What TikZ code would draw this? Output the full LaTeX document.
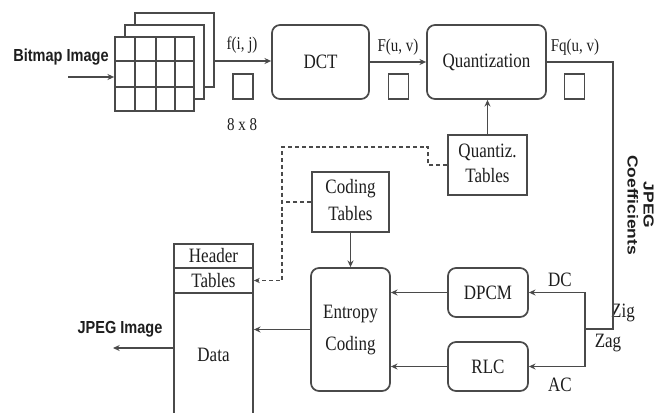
\documentclass[tikz,border=0pt]{standalone}
\usepackage{fontspec}
\setmainfont{Liberation Serif}
\newfontfamily\arialf{Liberation Sans}
\usepackage{graphicx}
\usetikzlibrary{arrows.meta}
\newcommand\vs[1]{\scalebox{1}[1.2]{#1}}
\newcommand\hs[1]{\scalebox{1.2}[1]{#1}}
\definecolor{lc}{HTML}{4A4A4A}
\definecolor{tc}{HTML}{1E1E1E}
\begin{document}
\begin{tikzpicture}[x=0.75pt,y=-0.75pt,
 ln/.style={draw=lc, line width=1.1pt},
 arr/.style={ln, -{Stealth[length=5pt,width=4.5pt]}},
 dsh/.style={draw=lc, line width=1pt, dash pattern=on 3pt off 2.2pt},
 bigf/.style={font=\fontsize{12.75}{15}\selectfont, text=tc},
 smallf/.style={font=\fontsize{11.25}{13}\selectfont, text=tc},
 sansf/.style={font=\arialf\bfseries\fontsize{10.9}{13}\selectfont, text=tc},
 box/.style={draw=lc, line width=1.3pt, inner sep=0pt, fill=white, bigf, align=center},
 rbox/.style={box, rounded corners=6pt},
 sq/.style={draw=lc, line width=1.2pt, inner sep=0pt, minimum width=15pt, minimum height=18.75pt},
 lbl/.style={inner sep=0pt},
]
\useasboundingbox (0,0) rectangle (666,412);
\clip (0,0) rectangle (666,412);

% bitmap layers
\node[box, minimum width=59.25pt, minimum height=55.5pt] (L3) at (174.5,50) {};
\node[box, minimum width=59.25pt, minimum height=55.5pt] (L2) at (164.5,62) {};
\node[box, minimum width=59.25pt, minimum height=55.5pt] (L1) at (154.5,74) {};
\foreach \xx in {135,156,175} \draw[ln] (\xx,37) -- (\xx,111);
\foreach \yy in {61,87} \draw[ln] (115,\yy) -- (194,\yy);

\node[lbl, sansf] (bmp) at (61,57) {\vs{Bitmap Image}};
\coordinate (bin) at (68,77);
\draw[arr] (bin) -- (bin -| L1.west);

% main boxes
\node[rbox, minimum width=72.75pt, minimum height=55.5pt] (DCT) at (320.5,62) {\vs{DCT}};
\node[rbox, minimum width=89.25pt, minimum height=55.5pt] (Q) at (486.5,62) {\vs{Quantization}};
\node[box, minimum width=59.25pt, minimum height=45pt] (QT) at (487.5,165)
  {\vs{\begin{tabular}{@{}c@{}}Quantiz.\\[1pt]Tables\end{tabular}}};
\node[box, minimum width=57.75pt, minimum height=45pt] (CT) at (350.5,202)
  {\vs{\begin{tabular}{@{}c@{}}Coding\\[1.5pt]Tables\end{tabular}}};
\node[rbox, minimum width=59.25pt, minimum height=92.25pt] (EC) at (350.5,329.5)
  {\vs{\begin{tabular}{@{}c@{}}Entropy\\[5pt]Coding\end{tabular}}};
\node[rbox, minimum width=60pt, minimum height=36.75pt] (DPCM) at (488,292.5) {\vs{DPCM}};
\node[rbox, minimum width=60pt, minimum height=36.75pt] (RLC) at (488,366.5) {\vs{RLC}};

% jpeg container
\node[box, minimum width=59.25pt, minimum height=18pt] (HD) at (213.5,256) {\vs{Header}};
\node[box, minimum width=59.25pt, minimum height=18.75pt] (TB) at (213.5,280.5) {\vs{Tables}};
\node[box, minimum width=59.25pt, minimum height=95.25pt] (DT) at (213.5,356.5) {\raisebox{2pt}{\vs{Data}}};

% small squares
\node[sq] (s1) at (243,86.5) {};
\node[sq] (s2) at (398.5,86.5) {};
\node[sq] (s3) at (574.5,86.5) {};

% labels
\node[lbl, smallf] (lf) at (242,45) {\vs{f(i, j)}};
\node[lbl, smallf] (l8) at (242,125) {\vs{8 x 8}};
\node[lbl, smallf] (lF) at (398,47) {\vs{F(u, v)}};
\node[lbl, smallf] (lFq) at (575,47) {\vs{Fq(u, v)}};
\node[lbl, bigf] (lDC) at (560,280) {\vs{DC}};
\node[lbl, bigf] (lAC) at (560,385) {\vs{AC}};
\node[lbl, bigf] (lZig) at (623,313) {\vs{Zig}};
\node[lbl, bigf] (lZag) at (608,343) {\vs{Zag}};
\node[lbl, sansf] (ljpg) at (120,329) {\vs{JPEG Image}};
\node[lbl, sansf, rotate=-90, align=center] (lcoef) at (639,205)
  {\hs{\begin{tabular}{@{}c@{}}JPEG\\[-1pt]Coefficients\end{tabular}}};

% connectors
\draw[arr] (L3.east |- 0,61) -- (DCT.west |- 0,61);
\draw[arr] (DCT.east) -- (Q.west);
\draw[arr] (QT.north) -- (QT.north |- Q.south);
\coordinate (zr) at (613,329);
\coordinate (zj) at (585,329);
\draw[ln] (Q.east) -| (zr) -- (zj);
\draw[arr] (zj) |- (DPCM.east);
\draw[arr] (zj) |- (RLC.east);
\draw[arr] (DPCM.west) -- (DPCM.west -| EC.east);
\draw[arr] (RLC.west) -- (RLC.west -| EC.east);
\draw[arr] (CT.south) -- (CT.south |- EC.north);
\draw[arr] (EC.west) -- (EC.west -| DT.east);
\coordinate (jout) at (113,348);
\draw[arr] (DT.west |- jout) -- (jout);

% dashed table paths
\coordinate (d1) at (428,147);
\coordinate (d2) at (282,147);
\draw[dsh, -{Stealth[length=4.5pt,width=4pt]}] (QT.west) -| (d1) -- (d2) |- (TB.east);
\draw[dsh] (CT.west) -- (CT.west -| d2);
\end{tikzpicture}
\end{document}
